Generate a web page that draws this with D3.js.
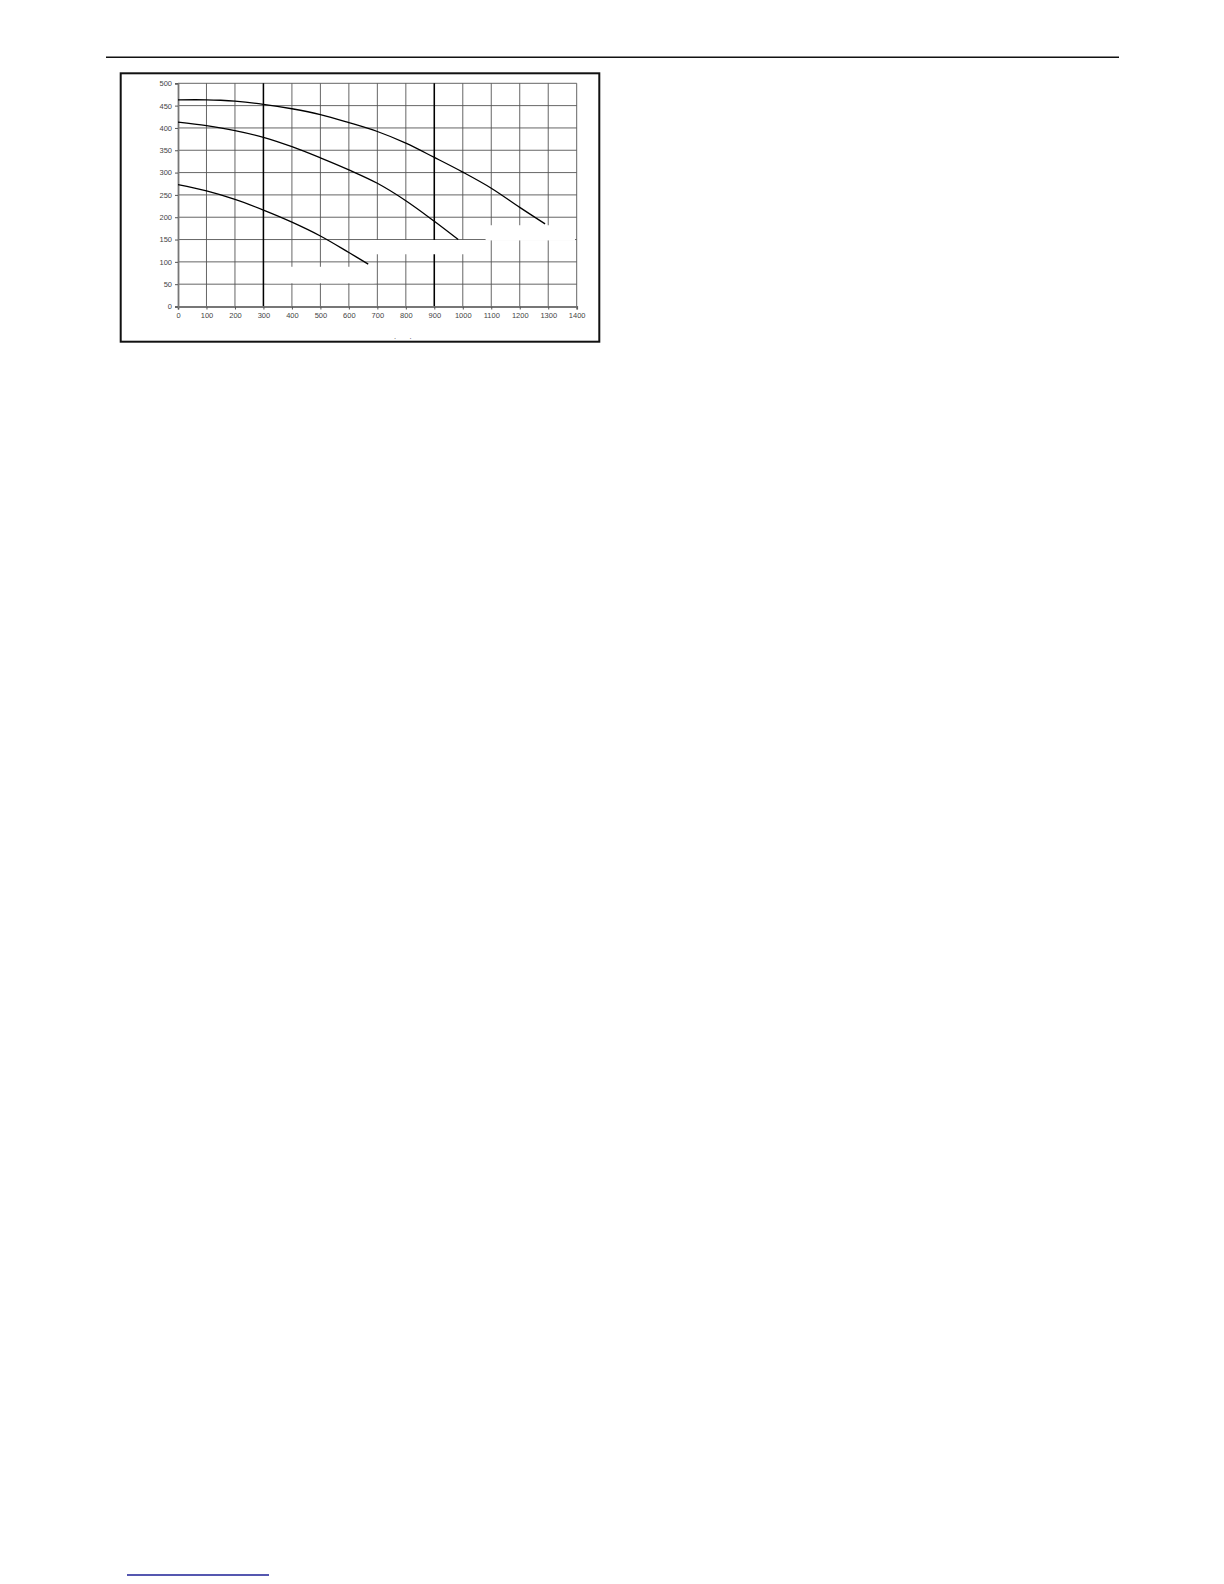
<!DOCTYPE html>
<html>
<head>
<meta charset="utf-8">
<script src="https://cdn.jsdelivr.net/npm/d3@7"></script>
<style>
  html, body { margin: 0; padding: 0; background: #fff; overflow: hidden; }
  svg { display: block; }
  .tick-label { font-family: "Liberation Sans", Arial, sans-serif; font-size: 7.5px; fill: #444; }
</style>
</head>
<body>
<div id="chart"></div>
<script>
// Eixos
const xTicks = [0, 100, 200, 300, 400, 500, 600, 700, 800, 900, 1000, 1100, 1200, 1300, 1400];
const yTicks = [0, 50, 100, 150, 200, 250, 300, 350, 400, 450, 500];

// Curvas (vazão x altura)
const curveHigh = [[0, 463], [100, 463], [150, 462], [200, 460], [300, 453], [400, 443], [500, 430],
    [600, 412], [700, 392], [800, 366], [900, 334], [1000, 301], [1100, 265], [1200, 222], [1289, 185]];
const curveMid = [[0, 413], [100, 405], [200, 394], [300, 379], [400, 358], [500, 333], [600, 306],
    [700, 276], [800, 237], [900, 191], [984, 150]];
const curveLow = [[0, 273], [100, 259], [200, 240], [300, 216], [400, 189], [500, 158], [600, 121], [668, 95]];

// Linhas verticais de destaque
const markerX = [300, 900];

// Áreas apagadas no original (rótulos removidos)
const erasedBands = [
    { x0: 675, x1: 1078, y0: 117, y1: 149 },
    { x0: 310, x1: 690, y0: 52, y1: 89 },
    { x0: 1080, x1: 1394, y0: 148, y1: 182 }
];

const W = 1224, H = 1584;
const svg = d3.select("#chart").append("svg")
    .attr("width", W).attr("height", H);

// régua superior e sublinhado do rodapé
svg.append("line")
    .attr("x1", 106).attr("x2", 1119).attr("y1", 57.3).attr("y2", 57.3)
    .attr("stroke", "#111").attr("stroke-width", 1.4);
svg.append("line")
    .attr("x1", 127).attr("x2", 269).attr("y1", 1575).attr("y2", 1575)
    .attr("stroke", "#1c1f96").attr("stroke-width", 1.3);

// moldura
svg.append("rect")
    .attr("x", 120.7).attr("y", 73.3).attr("width", 478.6).attr("height", 268.4)
    .attr("fill", "none").attr("stroke", "#111").attr("stroke-width", 2);

const x = d3.scaleLinear().domain([0, 1400]).range([178, 576.7]);
const y = d3.scaleLinear().domain([0, 500]).range([306.5, 83.3]);

const grid = svg.append("g");
grid.selectAll("line.v")
    .data(xTicks.slice(1))
    .enter().append("line")
    .attr("class", "v")
    .attr("x1", d => x(d)).attr("x2", d => x(d))
    .attr("y1", y(0)).attr("y2", y(500))
    .attr("stroke", "#555").attr("stroke-width", 0.9);
grid.selectAll("line.h")
    .data(yTicks.slice(1))
    .enter().append("line")
    .attr("class", "h")
    .attr("x1", x(0)).attr("x2", x(1400))
    .attr("y1", d => y(d)).attr("y2", d => y(d))
    .attr("stroke", "#555").attr("stroke-width", 0.9);

grid.selectAll("line.marker")
    .data(markerX)
    .enter().append("line")
    .attr("class", "marker")
    .attr("x1", d => x(d)).attr("x2", d => x(d))
    .attr("y1", y(0)).attr("y2", y(500))
    .attr("stroke", "#000").attr("stroke-width", 1.5);

// eixos
const xAxis = d3.axisBottom(x).tickValues(xTicks).tickFormat(d => String(d)).tickSize(3).tickPadding(3);
const yAxis = d3.axisLeft(y).tickValues(yTicks).tickFormat(d => String(d)).tickSize(3).tickPadding(3);

const gx = svg.append("g").attr("transform", `translate(0,${y(0)})`).call(xAxis);
const gy = svg.append("g").attr("transform", `translate(${x(0)},0)`).call(yAxis);
[gx, gy].forEach(g => {
    g.select(".domain").attr("stroke", "#777").attr("stroke-width", 1.8);
    g.selectAll(".tick line").attr("stroke", "#555");
    g.selectAll(".tick text").attr("class", "tick-label").attr("font-size", null).attr("font-family", null);
});

// apagados
svg.append("g").selectAll("rect")
    .data(erasedBands)
    .enter().append("rect")
    .attr("x", d => x(d.x0)).attr("width", d => x(d.x1) - x(d.x0))
    .attr("y", d => y(d.y1)).attr("height", d => y(d.y0) - y(d.y1))
    .attr("fill", "#fff");

// curvas
const line = d3.line()
    .x(d => x(d[0]))
    .y(d => y(d[1]))
    .curve(d3.curveCatmullRom.alpha(0.5));

svg.append("g").selectAll("path")
    .data([curveHigh, curveMid, curveLow])
    .enter().append("path")
    .attr("d", line)
    .attr("fill", "none")
    .attr("stroke", "#000")
    .attr("stroke-width", 1.3);

// resto do título do eixo
svg.append("text")
    .attr("class", "tick-label")
    .attr("x", 394).attr("y", 339)
    .text(".");
svg.append("text")
    .attr("class", "tick-label")
    .attr("x", 409.5).attr("y", 339)
    .text(".");
</script>
</body>
</html>
